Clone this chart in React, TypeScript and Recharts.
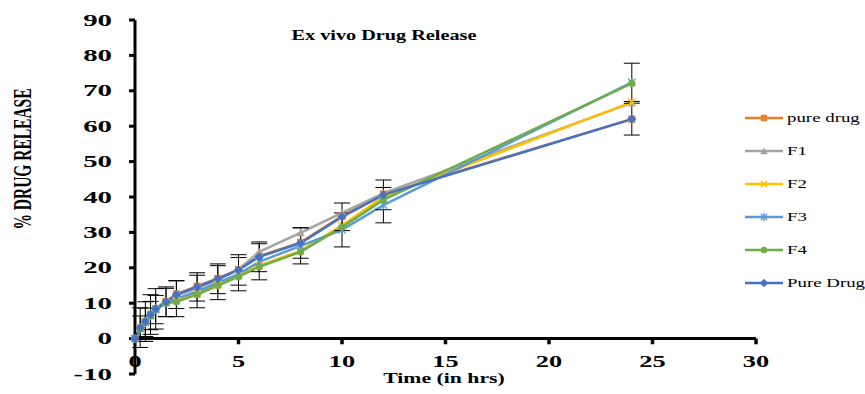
import React from "react";
import { LineChart, Line, XAxis, YAxis, ErrorBar, ReferenceLine } from "recharts";

// sampling times (hrs)
const TIMES = [0, 0.25, 0.5, 0.75, 1, 1.5, 2, 3, 4, 5, 6, 8, 10, 12, 24];

// % drug release per series
const PURE_DRUG_LC = [0, 3.0, 4.9, 6.9, 8.5, 10.5, 12.6, 14.8, 17.0, 19.5, 23.3, 27.2, 34.6, 40.8, 62.0];
const F1 = [0, 3.2, 5.0, 7.0, 8.6, 10.5, 12.2, 14.2, 16.6, 19.5, 24.5, 29.9, 35.5, 41.1, 66.6];
const F2 = [0, 2.9, 4.7, 6.6, 8.3, 10.2, 10.8, 12.6, 15.2, 17.8, 20.6, 24.8, 32.0, 40.0, 66.8];
const F3 = [0, 2.8, 4.6, 6.5, 8.2, 10.2, 11.3, 13.3, 15.8, 18.2, 21.7, 26.2, 30.7, 37.7, 72.4];
const F4 = [0, 2.7, 4.5, 6.4, 8.1, 10.0, 10.4, 12.4, 15.0, 17.5, 20.3, 24.5, 31.5, 39.2, 72.1];
const PURE_DRUG = [0, 3.1, 4.8, 6.8, 8.4, 10.4, 12.4, 14.6, 16.9, 19.4, 23.1, 27.0, 34.4, 40.6, 62.0];

// standard deviations
const ERR_PURE_DRUG = [0, 5.6, 5.6, 5.6, 5.7, 4.2, 3.9, 4.0, 4.2, 4.3, 4.2, 4.3, 3.9, 4.2, 4.5];
const ERR_F3 = [0, 3.6, 4.0, 4.0, 4.0, 4.0, 5.1, 4.6, 4.8, 4.7, 5.1, 5.1, 4.8, 5.0, 5.4];

const X_TICKS = [0, 5, 10, 15, 20, 25, 30];
const Y_TICKS = [-10, 0, 10, 20, 30, 40, 50, 60, 70, 80, 90];

const SERIES = [
  { key: "pureLc", name: "pure drug", color: "#ED7D31", shape: "square" },
  { key: "f1", name: "F1", color: "#A5A5A5", shape: "triangle" },
  { key: "f2", name: "F2", color: "#FFC000", shape: "cross" },
  { key: "f3", name: "F3", color: "#5B9BD5", shape: "star" },
  { key: "f4", name: "F4", color: "#70AD47", shape: "circle" },
  { key: "pure", name: "Pure Drug", color: "#4472C4", shape: "diamond" },
];

const data = TIMES.map((t, i) => ({
  t,
  pureLc: PURE_DRUG_LC[i],
  f1: F1[i],
  f2: F2[i],
  f3: F3[i],
  f4: F4[i],
  pure: PURE_DRUG[i],
  errPure: ERR_PURE_DRUG[i],
  errF3: ERR_F3[i],
}));

const SERIF = "'Liberation Serif', 'Times New Roman', serif";
const STRETCH = 1.45;

function Marker({ shape, cx, cy, color, s = 3.6 }: any) {
  if (cx == null || cy == null) return null;
  switch (shape) {
    case "square":
      return <rect x={cx - s} y={cy - s} width={2 * s} height={2 * s} fill={color} />;
    case "triangle":
      return <path d={`M${cx},${cy - s - 0.6}L${cx + s + 0.6},${cy + s}L${cx - s - 0.6},${cy + s}Z`} fill={color} />;
    case "cross":
      return (
        <path d={`M${cx - s},${cy - s}L${cx + s},${cy + s}M${cx - s},${cy + s}L${cx + s},${cy - s}`} stroke={color} strokeWidth={1.5} />
      );
    case "star":
      return (
        <path
          d={`M${cx - s},${cy - s}L${cx + s},${cy + s}M${cx - s},${cy + s}L${cx + s},${cy - s}M${cx},${cy - s - 1}L${cx},${cy + s + 1}`}
          stroke={color}
          strokeWidth={1.3}
        />
      );
    case "circle":
      return <circle cx={cx} cy={cy} r={s} fill={color} />;
    default:
      return <path d={`M${cx},${cy - s - 1}L${cx + s + 1},${cy}L${cx},${cy + s + 1}L${cx - s - 1},${cy}Z`} fill={color} />;
  }
}

function YTick({ x, y, payload }: any) {
  return (
    <text transform={`translate(${x},${y}) scale(1.8,1)`} textAnchor="end" dy="0.35em" fontFamily={SERIF} fontWeight="bold" fontSize={16} fill="#000">
      {payload.value}
    </text>
  );
}

function XTick({ x, y, payload }: any) {
  return (
    <text transform={`translate(${x},${y - 7}) scale(1.55,1)`} textAnchor="middle" fontFamily={SERIF} fontWeight="bold" fontSize={17} fill="#000">
      {payload.value}
    </text>
  );
}

function LegendBox() {
  return (
    <div style={{ position: "absolute", left: 745, top: 101 }}>
      {SERIES.map((s) => (
        <div key={s.key} style={{ height: 33, display: "flex", alignItems: "center" }}>
          <svg width={40} height={12}>
            <line x1={0} y1={6} x2={38} y2={6} stroke={s.color} strokeWidth={2.5} />
            <Marker shape={s.shape} cx={19} cy={6} color={s.color} s={3.2} />
          </svg>
          <span style={{ fontFamily: SERIF, fontSize: 13, display: "inline-block", transform: `scaleX(${STRETCH})`, transformOrigin: "left center", marginLeft: 2, whiteSpace: "nowrap" }}>
            {s.name}
          </span>
        </div>
      ))}
    </div>
  );
}

export default function App() {
  return (
    <div style={{ position: "absolute", left: 0, top: 0, width: 865, height: 394, background: "#fff", overflow: "hidden" }}>
      <LineChart width={865} height={394} data={data} margin={{ top: 20, right: 109, left: 0, bottom: 0 }}>
        <XAxis
          dataKey="t"
          type="number"
          domain={[0, 30]}
          ticks={X_TICKS}
          axisLine={false}
          tickLine={false}
          tickSize={0}
          tickMargin={0}
          height={20}
          tick={<XTick />}
          interval={0}
        />
        <YAxis
          type="number"
          domain={[-10, 90]}
          ticks={Y_TICKS}
          width={135}
          axisLine={{ stroke: "#000", strokeWidth: 3 }}
          tickLine={{ stroke: "#000", strokeWidth: 3 }}
          tickSize={6}
          tickMargin={17}
          tick={<YTick />}
          interval={0}
        />
        <ReferenceLine y={0} stroke="#000" strokeWidth={3} />
        {X_TICKS.filter((t) => t > 0).map((t) => (
          <ReferenceLine key={t} segment={[{ x: t, y: 0 }, { x: t, y: -1.6 }]} stroke="#000" strokeWidth={3.5} />
        ))}
        {SERIES.map((s) => (
          <Line
            key={s.key}
            type="linear"
            dataKey={s.key}
            name={s.name}
            stroke={s.color}
            strokeWidth={2.5}
            isAnimationActive={false}
            activeDot={false}
            dot={(p: any) => <Marker key={`${s.key}-${p.index}`} shape={s.shape} cx={p.cx} cy={p.cy} color={s.color} />}
          >
            {s.key === "pure" && <ErrorBar dataKey="errPure" width={8} stroke="#000" strokeWidth={1} />}
            {s.key === "f3" && <ErrorBar dataKey="errF3" width={8} stroke="#000" strokeWidth={1} />}
          </Line>
        ))}
      </LineChart>
      <LegendBox />
      <svg width={865} height={394} style={{ position: "absolute", left: 0, top: 0, pointerEvents: "none" }}>
        <text transform={`translate(384,40) scale(1.35,1)`} textAnchor="middle" fontFamily={SERIF} fontWeight="bold" fontSize={15}>
          Ex vivo Drug Release
        </text>
        <text transform={`translate(22,159) scale(1.6,1) rotate(-90)`} textAnchor="middle" dy="0.35em" fontFamily={SERIF} fontWeight="bold" fontSize={15.5}>
          % DRUG RELEASE
        </text>
        <text transform={`translate(444,383) scale(${STRETCH},1)`} textAnchor="middle" fontFamily={SERIF} fontWeight="bold" fontSize={15}>
          Time (in hrs)
        </text>
      </svg>
    </div>
  );
}
